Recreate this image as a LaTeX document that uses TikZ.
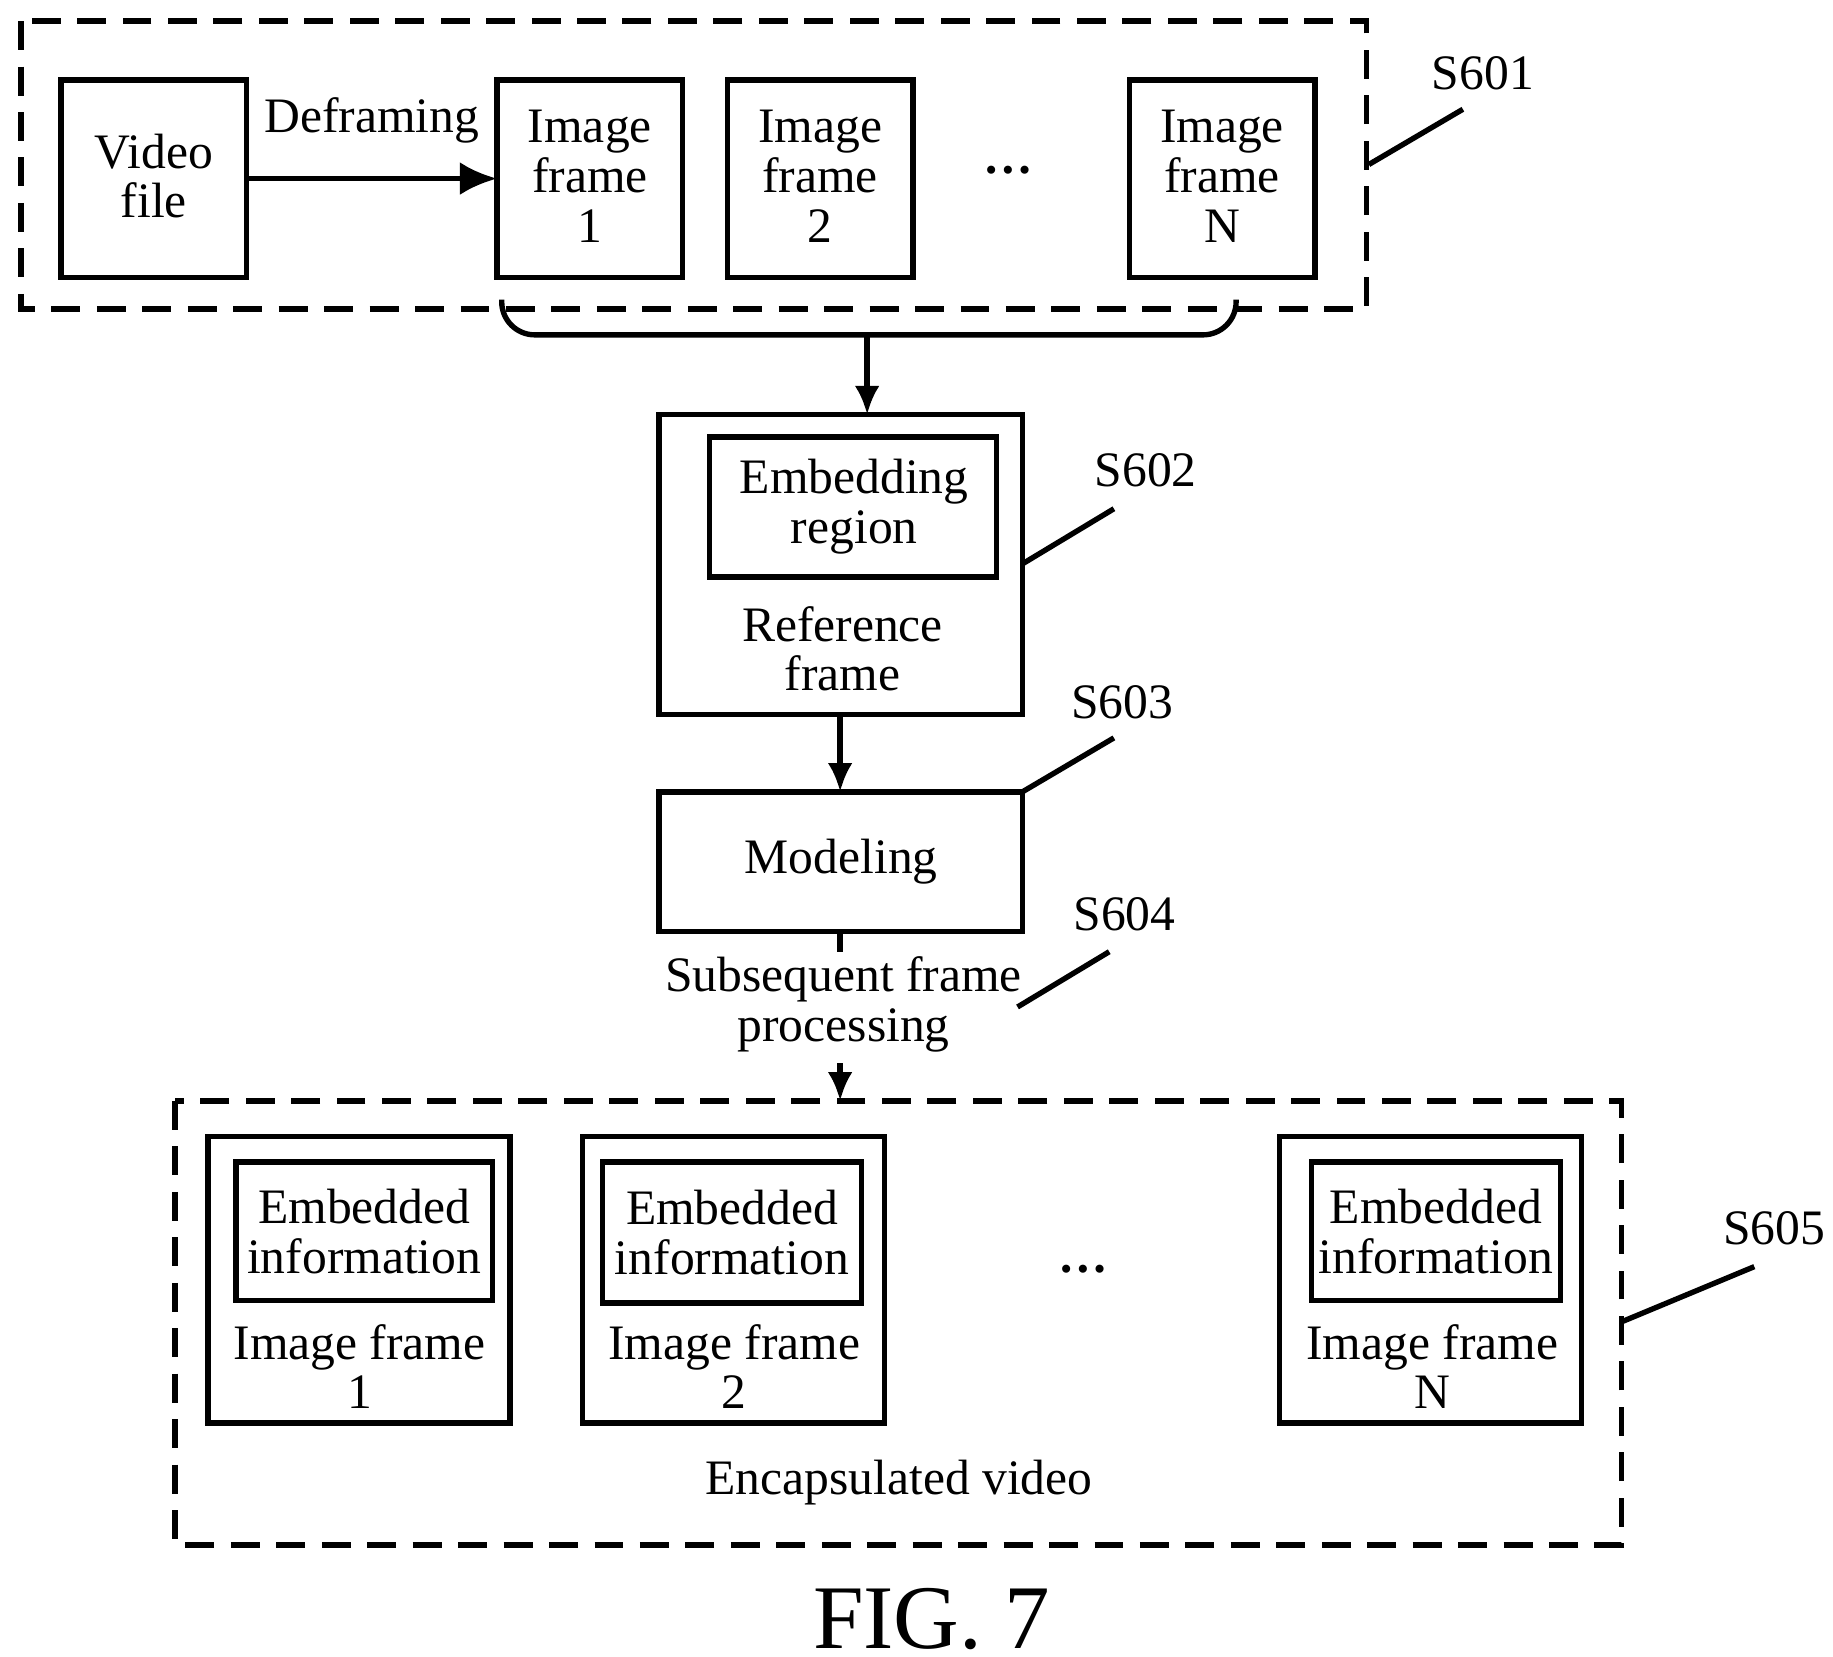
\documentclass[tikz,border=0pt]{standalone}
\usepackage{fontspec}
\usetikzlibrary{arrows.meta}
\setmainfont{Liberation Serif}
\begin{document}
\begin{tikzpicture}[x=0.01cm,y=-0.01cm,
 box/.style={draw,line width=1.3pt},
 dbox/.style={draw,line width=1.3pt,dash pattern=on 7pt off 4pt},
 txt/.style={align=center,font=\fontsize{12}{12}\selectfont,inner sep=0pt},
 lead/.style={line width=1.3pt},
 arr/.style={line width=1.3pt,-{Latex[length=7pt,width=6pt]}}]
\useasboundingbox (0,0) rectangle (1560,1410);
\draw[dbox] (18,18) rectangle (1163,263);
\draw[box] (52,68) rectangle (210,236);
\node[txt] (vft) at (131,150) {Video\\file};
\draw[box] (423,68) rectangle (581,236);
\draw[box] (619,68) rectangle (777,236);
\draw[box] (961,68) rectangle (1119,236);
\node[txt] (f1) at (502,150) {Image\\frame\\1};
\node[txt] (f2) at (698,150) {Image\\frame\\2};
\node[txt] (fn) at (1040,150) {Image\\frame\\N};
\node[txt] (dots1) at (858,145) {\textbf{…}};
\coordinate (a1) at (210,152); \coordinate (a2) at (423,152);
\draw[line width=1.3pt,-{Latex[length=9pt,width=8pt]}] (a1) -- (a2) node[midway,above=8pt,txt] {Deframing};
\coordinate (b1) at (427,255); \coordinate (b2) at (1052,255);
\draw[lead,rounded corners=8pt] (b1) -- (427,285) -- (1052,285) -- (b2);
\coordinate (bc) at (738,285); \coordinate (rt) at (738,353);
\draw[arr] (bc) -- (rt);
\draw[box] (561,353) rectangle (870,608);
\draw[box] (604,372) rectangle (848,491);
\node[txt] (er) at (727,431) {Embedding\\region};
\node[txt] (rf) at (717,552) {Reference\\frame};
\coordinate (r1) at (715,608); \coordinate (m1) at (715,674);
\draw[arr] (r1) -- (m1);
\draw[box] (561,674) rectangle (870,793);
\node[txt] (mod) at (716,733) {Modeling};
\coordinate (m2) at (715,793); \coordinate (m3) at (715,810);
\draw[lead] (m2) -- (m3);
\node[txt] (sub) at (718,855) {Subsequent frame\\processing};
\coordinate (s1) at (715,905); \coordinate (s2) at (715,937);
\draw[arr] (s1) -- (s2);
\draw[dbox] (149,937) rectangle (1380,1315);
\draw[box] (177,967) rectangle (434,1211); \draw[box] (201,989) rectangle (419,1107);
\draw[box] (496,967) rectangle (753,1211); \draw[box] (513,989) rectangle (733,1109);
\draw[box] (1089,967) rectangle (1346,1211); \draw[box] (1116,989) rectangle (1328,1107);
\node[txt] (e1) at (310,1048) {Embedded\\information};
\node[txt] (e2) at (623,1049) {Embedded\\information};
\node[txt] (en) at (1222,1048) {Embedded\\information};
\node[txt] (i1) at (306,1163) {Image frame\\1};
\node[txt] (i2) at (625,1163) {Image frame\\2};
\node[txt] (in) at (1219,1163) {Image frame\\N};
\node[txt] (dots2) at (922,1080) {\textbf{…}};
\node[txt] (enc) at (765,1262) {Encapsulated video};
\node[txt] (l1) at (1262,62) {S601}; \draw[lead] (1165,140) -- (1245,93);
\node[txt] (l2) at (975,400) {S602}; \draw[lead] (870,480) -- (948,433);
\node[txt] (l3) at (955,598) {S603}; \draw[lead] (870,674) -- (948,628);
\node[txt] (l4) at (957,778) {S604}; \draw[lead] (866,857) -- (944,810);
\node[txt] (l5) at (1510,1045) {S605}; \draw[lead] (1380,1125) -- (1493,1078);
\node[font=\fontsize{22}{24}\selectfont,inner sep=0pt] (fig) at (793,1378) {FIG. 7};
\end{tikzpicture}
\end{document}
